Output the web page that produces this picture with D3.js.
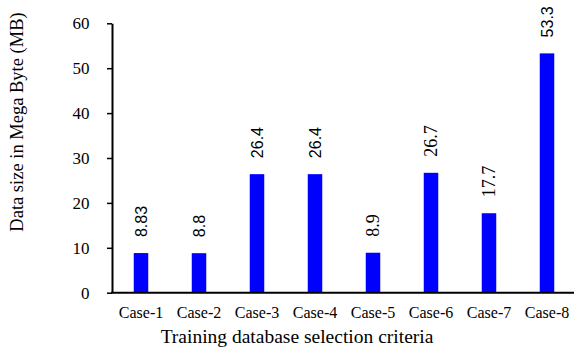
<!DOCTYPE html>
<html>
<head>
<meta charset="utf-8">
<script src="https://cdn.jsdelivr.net/npm/d3@7"></script>
<style>
  html, body { margin: 0; padding: 0; background: #fff; }
  svg { display: block; }
  .serif { font-family: "Liberation Serif", "Times New Roman", Times, serif; }
  .sans { font-family: "Liberation Sans", Arial, Helvetica, sans-serif; }
</style>
</head>
<body>
<svg id="chart" width="574" height="347"></svg>
<script>
// ---- data ----
const categories = ["Case-1", "Case-2", "Case-3", "Case-4", "Case-5", "Case-6", "Case-7", "Case-8"];
const dataSize = [8.83, 8.8, 26.4, 26.4, 8.9, 26.7, 17.7, 53.3];
const valueLabels = ["8.83", "8.8", "26.4", "26.4", "8.9", "26.7", "17.7", "53.3"];
const yTicks = [0, 10, 20, 30, 40, 50, 60];
const yTitle = "Data size in Mega Byte (MB)";
const xTitle = "Training database selection criteria";

// ---- style ----
const serifLabelCases = new Set(["Case-5", "Case-6", "Case-7"]);

const svg = d3.select("#chart");
const axisX = 112, plotRight = 576, y0 = 292.7, yTop = 23.3;

const x = d3.scaleBand().domain(categories).range([axisX, plotRight]).paddingInner(0.75).paddingOuter(0.375);
const y = d3.scaleLinear().domain([0, 60]).range([y0, yTop]);

// bars
svg.append("g").selectAll("rect").data(categories).join("rect")
  .attr("x", d => x(d))
  .attr("width", x.bandwidth())
  .attr("y", (d, i) => y(dataSize[i]))
  .attr("height", (d, i) => y(0) - y(dataSize[i]))
  .attr("fill", "#0000ff");

// value labels
svg.append("g").selectAll("text").data(categories).join("text")
  .attr("class", d => serifLabelCases.has(d) ? "serif" : "sans")
  .attr("transform", (d, i) => `translate(${x(d) + x.bandwidth() / 2},${y(dataSize[i]) - 16}) rotate(-90)`)
  .attr("text-anchor", "start")
  .attr("dy", "0.35em")
  .attr("font-size", d => serifLabelCases.has(d) ? 18 : 16)
  .attr("fill", "#000")
  .text((d, i) => valueLabels[i]);

// y axis
const yAxis = svg.append("g")
  .attr("transform", `translate(${axisX},0)`)
  .call(d3.axisLeft(y).tickValues(yTicks).tickSize(5).tickSizeOuter(0).tickPadding(17.5).tickFormat(d3.format("d")));
yAxis.attr("font-family", null).attr("font-size", null).attr("class", "serif");
yAxis.select(".domain").attr("stroke", "#000").attr("stroke-width", 2);
yAxis.selectAll(".tick line").attr("stroke", "#000").attr("stroke-width", 1.5);
yAxis.selectAll(".tick text")
  .attr("font-size", 17).attr("fill", "#000").attr("dy", "0.32em");

// x axis
const xAxis = svg.append("g")
  .attr("transform", `translate(0,${y0})`)
  .call(d3.axisBottom(x).tickSize(0).tickSizeOuter(0).tickPadding(14));
xAxis.attr("font-family", null).attr("font-size", null).attr("class", "serif");
xAxis.select(".domain").attr("stroke", "#000").attr("stroke-width", 2)
  .attr("d", `M${axisX - 1},0H574`);
xAxis.selectAll(".tick text")
  .attr("font-size", 16).attr("fill", "#000");

// titles
svg.append("text")
  .attr("class", "serif")
  .attr("transform", "translate(23,122) rotate(-90)")
  .attr("text-anchor", "middle")
  .attr("font-size", 18.5).attr("fill", "#000")
  .text(yTitle);

svg.append("text")
  .attr("class", "serif")
  .attr("x", 297).attr("y", 343)
  .attr("text-anchor", "middle")
  .attr("font-size", 19.5).attr("fill", "#000")
  .text(xTitle);
</script>
</body>
</html>
